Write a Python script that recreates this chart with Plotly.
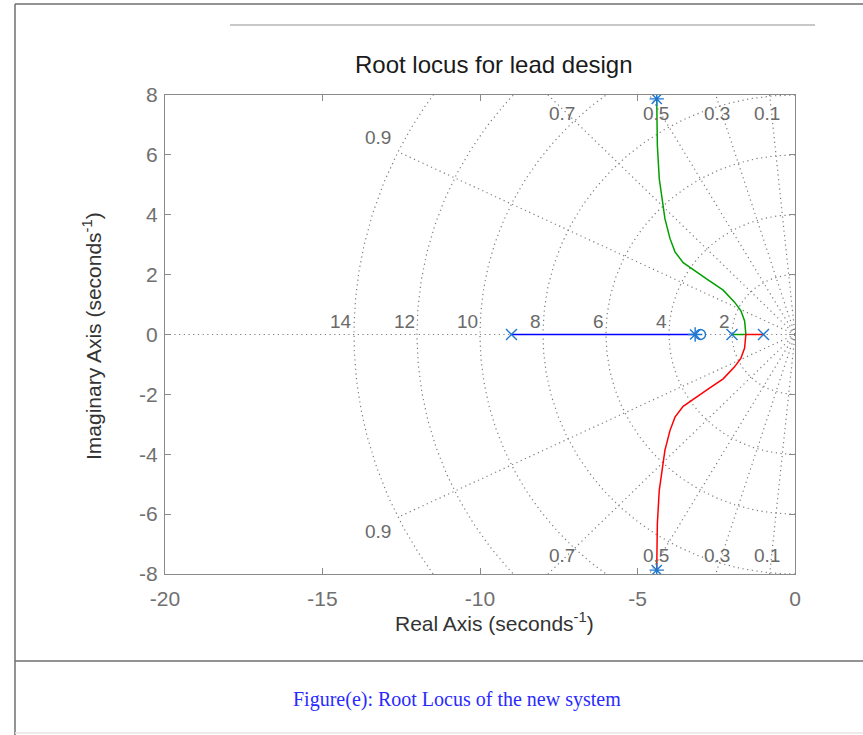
import numpy as np
import plotly.graph_objects as go

# ---- root locus data -------------------------------------------------------
pole_re = [-9.0, -2.0, -1.0]          # open-loop poles (x)
zero_re = [-3.0]                       # open-loop zero (o)
cl_re = [-4.39, -4.39, -3.17]          # closed-loop poles at the chosen gain (*)
cl_im = [7.87, -7.87, 0.0]

# upper complex branch, from the breakaway point to the chosen gain
branch_re = [-1.56, -1.60, -1.72, -1.92, -2.28, -2.75, -3.23, -3.55, -3.81,
             -3.97, -4.13, -4.23, -4.31, -4.37, -4.39]
branch_im = [0.00, 0.45, 0.80, 1.08, 1.48, 1.82, 2.15, 2.40, 2.76,
             3.21, 3.87, 4.54, 5.21, 6.32, 7.87]

# s-plane grid values
zeta_vals = [0.1, 0.3, 0.5, 0.7, 0.9]
wn_vals = [2, 4, 6, 8, 10, 12, 14]

x_ticks = [-20, -15, -10, -5, 0]
y_ticks = [-8, -6, -4, -2, 0, 2, 4, 6, 8]

# ---- figure geometry (pixels) ---------------------------------------------
W, H = 863, 735
L, R, T, B = 165, 795, 95, 574

def px(x):
    return (x - L) / (R - L)

def py(y):
    return (B - y) / (B - T)

GRID = "#7c7c7c"
TICK = "#707070"
LABEL = "#6a6a6a"
FONT = "Liberation Sans"

fig = go.Figure()

# damping rays and natural-frequency circles
gx, gy = [-20, 0, None], [0, 0, None]
wmax = max(wn_vals)
for z in zeta_vals:
    s = np.sqrt(1 - z * z)
    for sign in (1, -1):
        gx += [0, -wmax * z, None]
        gy += [0, sign * wmax * s, None]
th = np.linspace(np.pi / 2, 3 * np.pi / 2, 241)
for w in wn_vals:
    gx += list(w * np.cos(th)) + [None]
    gy += list(w * np.sin(th)) + [None]
fig.add_trace(go.Scatter(x=gx, y=gy, mode="lines",
                         line=dict(color=GRID, width=1.2, dash="1.2px,3.5px"),
                         hoverinfo="skip"))

# locus branches
fig.add_trace(go.Scatter(x=[pole_re[0], cl_re[2]], y=[0, 0], mode="lines",
                         line=dict(color="#0000ff", width=1.5)))
fig.add_trace(go.Scatter(x=[pole_re[1]] + branch_re, y=[0] + branch_im, mode="lines",
                         line=dict(color="#00a000", width=1.5)))
fig.add_trace(go.Scatter(x=[pole_re[2]] + branch_re, y=[0] + [-v for v in branch_im],
                         mode="lines", line=dict(color="#ff0000", width=1.5)))

MK = "#1f77d0"
fig.add_trace(go.Scatter(x=pole_re, y=[0] * len(pole_re), mode="markers",
                         marker=dict(symbol="x-thin-open", size=11, color=MK,
                                     line=dict(color=MK, width=1.4))))
fig.add_trace(go.Scatter(x=zero_re, y=[0], mode="markers",
                         marker=dict(symbol="circle-open", size=10, color=MK,
                                     line=dict(color=MK, width=1.4))))
fig.add_trace(go.Scatter(x=cl_re, y=cl_im, mode="markers",
                         marker=dict(symbol="asterisk-open", size=12, color=MK,
                                     line=dict(color=MK, width=1.4))))

ann = []
# frequency labels along the negative real axis
for w in wn_vals:
    ann.append(dict(x=-w, y=0, xref="x", yref="y", text=str(w), showarrow=False,
                    xanchor="right", yanchor="bottom", xshift=0, yshift=1,
                    font=dict(family=FONT, size=19, color=LABEL)))
# damping labels
for z in zeta_vals:
    s = np.sqrt(1 - z * z)
    for sign in (1, -1):
        if wmax * s < 7.38:
            xr, yr = -14.7 * z, sign * 14.7 * s
            ann.append(dict(x=xr, y=yr + sign * 0.17, xref="x", yref="y", text=str(z),
                            showarrow=False, xanchor="center", yanchor="middle",
                            font=dict(family=FONT, size=19, color=LABEL)))
        else:
            yr = 7.38
            xr = -yr * z / s
            ann.append(dict(x=xr, y=sign * yr, xref="x", yref="y", text=str(z),
                            showarrow=False, xanchor="center", yanchor="middle",
                            xshift=-5,
                            font=dict(family=FONT, size=19, color=LABEL)))

# title and axis titles
ann.append(dict(x=px(494), y=py(64), xref="paper", yref="paper",
                text="Root locus for lead design", showarrow=False,
                xanchor="center", yanchor="middle",
                font=dict(family=FONT, size=24, color="#1a1a1a")))
ann.append(dict(x=px(494), y=py(622), xref="paper", yref="paper",
                text="Real Axis (seconds<sup>-1</sup>)", showarrow=False,
                xanchor="center", yanchor="middle",
                font=dict(family=FONT, size=21, color="#333333")))
ann.append(dict(x=px(92), y=py(336), xref="paper", yref="paper", textangle=-90,
                text="Imaginary Axis (seconds<sup>-1</sup>)", showarrow=False,
                xanchor="center", yanchor="middle",
                font=dict(family=FONT, size=21, color="#333333")))
# caption
ann.append(dict(x=px(457), y=py(699), xref="paper", yref="paper",
                text="Figure(e): Root Locus of the new system", showarrow=False,
                xanchor="center", yanchor="middle",
                font=dict(family="Liberation Serif", size=20, color="#2a2aff")))

shapes = [
    # page frame
    dict(type="line", xref="paper", yref="paper", x0=px(15), x1=px(863), y0=py(4), y1=py(4),
         line=dict(color="#6f6f6f", width=1.5)),
    dict(type="line", xref="paper", yref="paper", x0=px(15), x1=px(15), y0=py(4), y1=py(735),
         line=dict(color="#6f6f6f", width=1.5)),
    dict(type="line", xref="paper", yref="paper", x0=px(15), x1=px(863), y0=py(661), y1=py(661),
         line=dict(color="#6f6f6f", width=1.5)),
    dict(type="line", xref="paper", yref="paper", x0=px(15), x1=px(863), y0=py(733), y1=py(733),
         line=dict(color="#e6e6e6", width=1.5)),
    dict(type="line", xref="paper", yref="paper", x0=px(230), x1=px(815), y0=py(25), y1=py(25),
         line=dict(color="#c8c8c8", width=2)),
]

axis_common = dict(showgrid=False, zeroline=False, showline=True, mirror="ticks",
                   linecolor="#8a8a8a", linewidth=1.2, ticks="inside", ticklen=6,
                   tickcolor="#8a8a8a", tickfont=dict(family=FONT, size=21, color=TICK))

fig.update_layout(
    width=W, height=H, margin=dict(l=L, r=W - R, t=T, b=H - B),
    paper_bgcolor="white", plot_bgcolor="white", showlegend=False,
    xaxis=dict(range=[-20, 0], tickvals=x_ticks, ticktext=[str(v) for v in x_ticks],
               ticklabelstandoff=6, **axis_common),
    yaxis=dict(range=[-8, 8], tickvals=y_ticks, ticktext=[str(v) for v in y_ticks],
               ticklabelstandoff=2, **axis_common),
    annotations=ann, shapes=shapes,
)

fig.write_html("out.html", config=dict(displayModeBar=False))
